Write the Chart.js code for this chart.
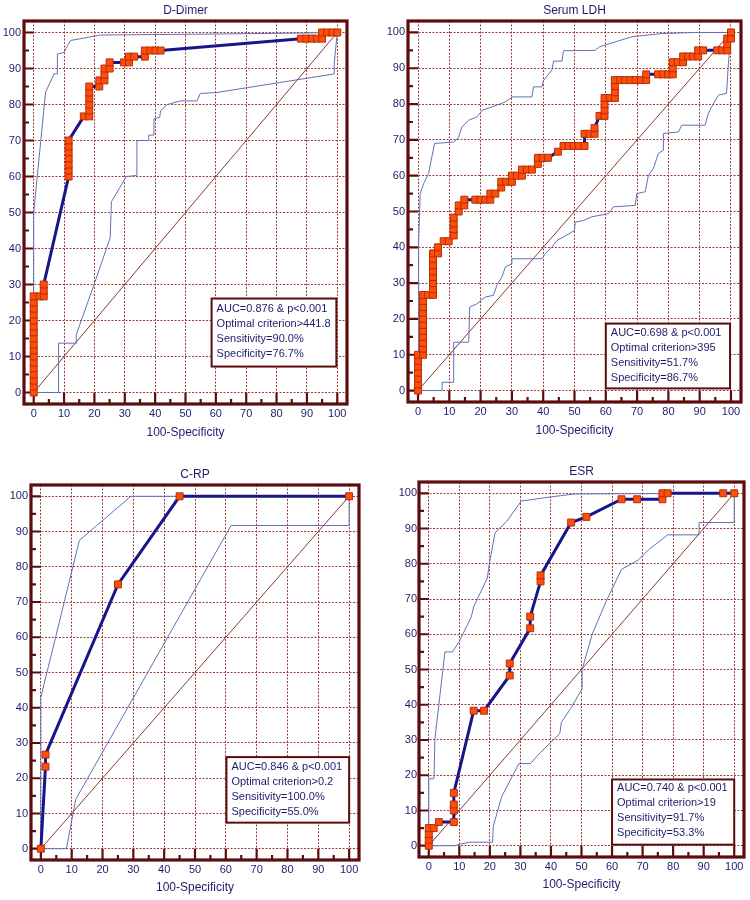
<!DOCTYPE html>
<html>
<head>
<meta charset="utf-8">
<script src="https://cdn.jsdelivr.net/npm/chart.js@4.4.1/dist/chart.umd.min.js"></script>
<style>
  html, body { margin: 0; padding: 0; background: #fff; }
  .panel { position: absolute; }
</style>
</head>
<body>
<div class="panel" style="left:0;top:0;width:375px;height:445px"><canvas id="ddimer"></canvas></div>
<div class="panel" style="left:375px;top:0;width:375px;height:445px"><canvas id="ldh"></canvas></div>
<div class="panel" style="left:0;top:445px;width:375px;height:455px"><canvas id="crp"></canvas></div>
<div class="panel" style="left:375px;top:445px;width:375px;height:455px"><canvas id="esr"></canvas></div>
<script>
// axis ticks (both axes, percent)
const tickValues = [0, 10, 20, 30, 40, 50, 60, 70, 80, 90, 100]
const diagonal = [[0, 0], [100, 100]]

// [100-specificity, sensitivity] pairs
const dDimerRoc = [[0,0],[0,1.7],[0,3.3],[0,5],[0,6.7],[0,8.3],[0,10],[0,11.7],[0,13.3],[0,15],[0,16.7],
  [0,18.3],[0,20],[0,21.7],[0,23.3],[0,25],[0,26.7],[1.9,26.7],[3.3,26.7],[3.3,28.3],[3.3,30],
  [11.5,60],[11.5,61.7],[11.5,63.3],[11.5,65],[11.5,66.7],[11.5,68.3],[11.5,70],
  [16.5,76.7],[18.3,76.7],[18.3,78.3],[18.3,80],[18.3,81.7],[18.3,83.3],[18.3,85],
  [21.6,85],[21.6,86.7],[23.3,86.7],[23.3,88.3],[23.3,90],[25,90],[25,91.7],
  [29.7,91.7],[31.4,91.7],[31.4,93.3],[33.1,93.3],[36.6,93.3],[36.6,95],[38.4,95],[40.1,95],[41.8,95],
  [88,98.3],[89.8,98.3],[91.6,98.3],[93.3,98.3],[95,98.3],[95,100],[96.7,100],[98.4,100],[100,100]]
const dDimerUpper = [[0,0],[0,50],[3.9,83.4],[6.7,88.5],[7.8,88.5],[7.8,94],[10,94.5],[11.1,96.4],
  [12.2,97.8],[18.2,98.7],[22,99.3],[61.5,99.6],[83,99.8],[100,100]]
const dDimerLower = [[0,0],[8.2,0],[8.2,13.7],[14,13.7],[14,16],[20,30.3],[25.2,43],[25.6,53],[30.5,60],
  [34,60.3],[34,70],[37.9,70],[37.9,71.5],[39.6,71.5],[39.6,76],[41.5,76.5],[41.8,78.3],[44,80],[48.4,81],
  [53.8,81],[54.9,83.1],[60,83.3],[99,88.5],[99,91.5],[100,100]]

const ldhRoc = [[0,0],[0,1.7],[0,3.3],[0,5],[0,6.7],[0,8.3],[0,10],
  [1.6,10],[1.6,11.7],[1.6,13.3],[1.6,15],[1.6,16.7],[1.6,18.3],[1.6,20],[1.6,21.7],[1.6,23.3],[1.6,25],[1.6,26.7],
  [3.2,26.7],[4.8,26.7],[4.8,28.3],[4.8,30],[4.8,31.7],[4.8,33.3],[4.8,35],[4.8,36.7],[4.8,38.3],
  [6.4,38.3],[6.4,40],[8.2,41.7],[9.8,41.7],[11.4,43.3],[11.4,45],[11.4,46.7],[11.4,48.3],[13,50],[13,51.7],
  [14.8,51.7],[14.8,53.3],[18.3,53.3],[19.9,53.3],[21.5,53.3],[23.1,53.3],[23.1,55],[24.7,55],[26.6,56.7],
  [26.6,58.3],[28.2,58.3],[30,58.3],[30,60],[31.6,60],[33.2,60],[33.2,61.7],[34.8,61.7],[36.4,61.7],
  [38.3,63.3],[38.3,65],[39.9,65],[41.5,65],[44.7,66.7],[46.5,68.3],[48.1,68.3],[49.7,68.3],[51.3,68.3],
  [53.2,68.3],[53.2,71.7],[54.8,71.7],[56.4,71.7],[56.4,73.3],[58,76.7],[59.6,76.7],[59.6,78.3],[59.6,80],
  [59.6,81.7],[61.3,81.7],[62.9,81.7],[62.9,83.3],[62.9,85],[62.9,86.7],[64.6,86.7],[66.2,86.7],[67.9,86.7],
  [69.5,86.7],[71.2,86.7],[72.9,86.7],[72.9,88.3],[76.7,88.3],[78.3,88.3],[79.9,88.3],[81.4,88.3],[81.4,90],
  [81.4,91.7],[83,91.7],[84.7,91.7],[84.7,93.3],[86.3,93.3],[87.9,93.3],[89.5,93.3],[89.5,95],[91.1,95],
  [95.6,95],[97.2,95],[98.8,95],[98.8,96.7],[98.8,98.3],[100,98.3],[100,100]]
const ldhUpper = [[0,0],[0.2,42],[0.7,55],[1.8,57.8],[3.4,60.6],[4.2,64.3],[5.3,69],[11.4,69.4],[12.9,70.6],
  [14,73.6],[16.2,75.5],[18.8,76.4],[20.6,78.3],[23.6,79.2],[27.9,80.6],[30.2,82],[36.4,82],[36.9,84.8],
  [39.6,84.8],[40.1,86.6],[42.8,89.5],[43.3,92],[46,92],[46.5,94.9],[56.6,95],[58,96],[65,97.9],[68.3,98.8],
  [78,99.7],[88.5,100],[100,100]]
const ldhLower = [[0,0],[7.7,0],[7.7,2.3],[11.4,2.3],[11.4,13.5],[16.2,13.5],[16.5,23.3],[18.8,24.2],
  [21.5,26.1],[24.1,26.6],[25.2,29.4],[26.8,31.7],[27.9,34.5],[30,35.4],[30,36.8],[39.6,36.8],[40.6,38.2],
  [42.8,40.1],[44.4,41.9],[46.5,42.9],[50,44.7],[50.2,47],[52.9,47.5],[55.5,48.5],[60.9,49.4],[62.4,51.3],
  [69.4,51.7],[69.9,55],[72.6,55.5],[73.6,60.1],[75.2,62],[76.8,66.2],[78.4,67.1],[78.4,71.8],[83.2,72.2],
  [84.3,74.1],[91.7,74.1],[92.8,77.4],[93.8,79.2],[96,82.5],[98.6,83],[99.1,90.4],[100,100]]

const crpRoc = [[0,0],[1.5,23.3],[1.5,26.7],[25,75],[45,100],[100,100]]
const crpUpper = [[0,0],[0,43],[12.5,87.5],[29.2,100],[100,100]]
const crpLower = [[0,0],[8.3,0],[11.3,14],[61.7,91.7],[100,91.7],[100,100]]

const esrRoc = [[0,0],[0,1.7],[0,3.3],[0,5],[1.6,5],[3.3,6.7],[8.2,6.7],[8.2,10],[8.2,11.7],[8.2,15],
  [14.7,38.3],[18.1,38.3],[26.5,48.3],[26.5,51.7],[33.2,61.7],[33.2,65],[36.6,75],[36.6,76.7],[46.6,91.7],
  [51.6,93.3],[63.1,98.3],[68.2,98.3],[76.5,98.3],[76.5,100],[78.2,100],[96.4,100],[100,100]]
const esrUpper = [[0,0],[0,19],[1.7,19],[2,30.3],[5.3,55],[7.8,55],[10,58],[13.9,64.9],[14.7,67.8],[17,72],
  [19.2,76],[19.8,79.9],[21.7,88.8],[25.4,91.9],[30.3,97.8],[40.2,99],[47.8,99.8],[100,100]]
const esrLower = [[0,0],[8.5,0],[10.5,0.5],[13.4,1],[20.9,1],[21.1,5.5],[23.9,14],[29.5,23.3],[33.3,23.3],
  [36.6,26.5],[42.9,31.8],[43.4,35],[46.5,39],[50.2,44.5],[50.2,50],[53.5,60],[58,69.2],[63.1,78.4],
  [68.5,81],[72,84],[78.2,88.2],[88.5,88.2],[88.5,91.7],[100,91.7],[100,100]]

const dDimerInfo = ['AUC=0.876 & p<0.001', 'Optimal criterion>441.8', 'Sensitivity=90.0%', 'Specificity=76.7%']
const ldhInfo = ['AUC=0.698 & p<0.001', 'Optimal criterion>395', 'Sensitivity=51.7%', 'Specificity=86.7%']
const crpInfo = ['AUC=0.846 & p<0.001', 'Optimal criterion>0.2', 'Sensitivity=100.0%', 'Specificity=55.0%']
const esrInfo = ['AUC=0.740 & p<0.001', 'Optimal criterion>19', 'Sensitivity=91.7%', 'Specificity=53.3%']

const FONT = '"Liberation Sans", Arial, sans-serif'
const TEXT = '#1c1c6c'
const FRAME = '#5c0c0c'
const GRID = '#a03c3c'
Chart.defaults.font.family = FONT

const toXY = pts => pts.map(p => ({ x: p[0], y: p[1] }))
const minorValues = tickValues.slice(1).map((v, i) => (v + tickValues[i]) / 2)

// dark frame round the plot with the inward tick marks on the left and bottom
const framePlugin = {
  id: 'rocFrame',
  beforeDatasetsDraw(chart) {
    const { ctx, chartArea: a, scales: { x, y } } = chart
    const x0 = x.getPixelForValue(0), y0 = y.getPixelForValue(0)
    ctx.save()
    ctx.strokeStyle = FRAME
    ctx.lineWidth = 2.2
    ctx.beginPath()
    tickValues.forEach(v => {
      const px = x.getPixelForValue(v), py = y.getPixelForValue(v)
      ctx.moveTo(px, a.bottom); ctx.lineTo(px, y0)
      ctx.moveTo(a.left, py); ctx.lineTo(x0, py)
    })
    minorValues.forEach(v => {
      const px = x.getPixelForValue(v), py = y.getPixelForValue(v)
      ctx.moveTo(px, a.bottom); ctx.lineTo(px, a.bottom - 5)
      ctx.moveTo(a.left, py); ctx.lineTo(a.left + 5, py)
    })
    ctx.stroke()
    ctx.lineWidth = 3.2
    ctx.strokeRect(a.left, a.top, a.width, a.height)
    ctx.restore()
  }
}

// white box with the AUC / criterion text
const infoPlugin = {
  id: 'rocInfo',
  afterDatasetsDraw(chart, args, opts) {
    const { ctx, scales: { x, y } } = chart
    const l = x.getPixelForValue(opts.box[0]), r = x.getPixelForValue(opts.box[1])
    const b = y.getPixelForValue(opts.box[2]), t = y.getPixelForValue(opts.box[3])
    ctx.save()
    ctx.fillStyle = '#fff'
    ctx.fillRect(l, t, r - l, b - t)
    ctx.strokeStyle = FRAME
    ctx.lineWidth = 2
    ctx.strokeRect(l, t, r - l, b - t)
    ctx.fillStyle = TEXT
    ctx.font = '11px ' + FONT
    ctx.textBaseline = 'middle'
    opts.lines.forEach((s, i) => ctx.fillText(s, l + 5, t + opts.first + i * 15))
    ctx.restore()
  }
}

function axis(lay, isX) {
  return {
    type: 'linear',
    min: -3.2,
    max: 103.2,
    afterBuildTicks: s => { s.ticks = tickValues.map(v => ({ value: v })) },
    afterFit: s => { if (isX) s.height = lay.xh; else s.width = lay.yw },
    grid: { color: GRID, lineWidth: 1, drawTicks: false },
    border: { display: false, dash: [2, 1.5] },
    ticks: { color: TEXT, font: { size: 11 }, padding: isX ? 3 : lay.yp, maxRotation: 0, autoSkip: false },
    title: isX
      ? { display: true, text: '100-Specificity', color: TEXT, font: { size: 12 }, padding: { top: 0, bottom: lay.tb } }
      : { display: false }
  }
}

function rocChart(id, title, roc, upper, lower, info, box, lay) {
  return new Chart(document.getElementById(id), {
    type: 'scatter',
    data: {
      datasets: [
        { data: toXY(roc), showLine: true, borderColor: '#16168a', borderWidth: 3,
          pointStyle: 'rect', pointRadius: 4.9, pointBackgroundColor: '#ff4d0d',
          pointBorderColor: '#b53000', pointBorderWidth: 1 },
        { data: toXY(upper), showLine: true, borderColor: '#6270b6', borderWidth: 1, pointRadius: 0 },
        { data: toXY(lower), showLine: true, borderColor: '#6270b6', borderWidth: 1, pointRadius: 0 },
        { data: toXY(diagonal), showLine: true, borderColor: '#8e3434', borderWidth: 1, pointRadius: 0 }
      ]
    },
    options: {
      responsive: true,
      maintainAspectRatio: false,
      animation: false,
      events: [],
      layout: { padding: { left: 0, right: lay.right, top: lay.top, bottom: 0 } },
      plugins: {
        legend: { display: false },
        tooltip: { enabled: false },
        title: { display: true, text: title, color: TEXT, font: { size: 12, weight: 'normal' },
          padding: { top: 3, bottom: 3.6 }, fullSize: false },
        rocInfo: { lines: info, box: box, first: lay.first }
      },
      scales: { x: axis(lay, true), y: axis(lay, false) }
    },
    plugins: [framePlugin, infoPlugin]
  })
}

rocChart('ddimer', 'D-Dimer', dDimerRoc, dDimerUpper, dDimerLower, dDimerInfo,
  [58.6, 99.7, 7.2, 26.1], { right: 28, top: 0, yw: 24, xh: 41, tb: 4.8, yp: 3, first: 10 })
rocChart('ldh', 'Serum LDH', ldhRoc, ldhUpper, ldhLower, ldhInfo,
  [60, 99.7, 0.6, 18.7], { right: 9, top: 0, yw: 33, xh: 43, tb: 6.8, yp: 3, first: 9 })
rocChart('crp', 'C-RP', crpRoc, crpUpper, crpLower, crpInfo,
  [60.2, 100, 7.4, 26], { right: 16, top: 19, yw: 31, xh: 40, tb: 4.8, yp: 3, first: 10 })
rocChart('esr', 'ESR', esrRoc, esrUpper, esrLower, esrInfo,
  [60, 100, 0.3, 18.8], { right: 6, top: 16, yw: 44, xh: 43, tb: 7.8, yp: 2, first: 9 })
</script>
</body>
</html>
